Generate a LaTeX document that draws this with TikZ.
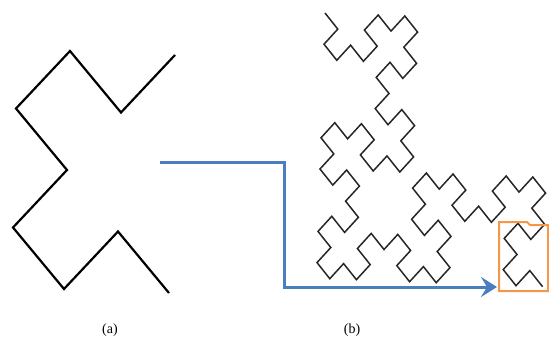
\documentclass[tikz,border=0pt]{standalone}
\usepackage{fontspec}
\setmainfont{Liberation Serif}
\usepackage{xcolor}
\usetikzlibrary{arrows.meta}
\definecolor{arrowblue}{RGB}{74,126,193}
\definecolor{boxorange}{RGB}{247,150,70}

\begin{document}
\begin{tikzpicture}[x=1pt,y=-1pt,
  curvea/.style={line width=2.2pt,black},
  curveb/.style={line width=1.5pt,black!85},
  flowarrow/.style={arrowblue,line width=3pt,-{Stealth[length=16pt,width=20pt,inset=6pt]}},
  markbox/.style={boxorange,line width=2pt},
  caption/.style={font=\fontsize{14}{16}\selectfont,inner sep=0pt}]
  \useasboundingbox (0,0) rectangle (549,342);
  % generator (a)
  \begin{scope}[x={(52.5pt,-2pt)},y={(-1.5pt,-59.5pt)},shift={(17.5pt,-49pt)}]
    \draw[curvea] plot coordinates {(3,0) (2,1) (1,0) (0,1) (1,2) (0,3) (1,4) (2,3) (3,4)};
  \end{scope}
  % curve (b), made of copies of (a)
  \begin{scope}[x={(13.3pt,-0.5pt)},y={(-0.5pt,-15.6pt)},shift={(325pt,-13pt)}]
    \draw[curveb] plot coordinates {
      (0,0) (1,1) (0,2) (1,3) (2,2) (3,3) (4,2) (3,1) (4,0)
      (5,1) (6,0) (7,1) (6,2) (7,3) (6,4) (5,3) (4,4)
      (5,5) (4,6) (5,7) (6,6) (7,7) (6,8) (7,9) (6,10) (5,9) (4,10) (3,9) (4,8)
      (3,7) (2,8) (1,7) (0,8) (1,9) (0,10) (1,11) (2,10) (3,11) (2,12)
      (3,13) (2,14) (1,13) (0,14) (1,15) (0,16) (1,17) (2,16) (3,17) (4,16)
      (3,15) (4,14) (5,15) (6,14) (7,15) (6,16) (7,17)
      (8,16) (9,17) (10,16) (9,15) (10,14) (9,13) (8,14) (7,13) (8,12) (7,11) (8,10)
      (9,11) (10,10) (11,11) (10,12) (11,13) (12,12) (13,13)
      (14,12) (13,11) (14,10) (15,11) (16,10) (17,11) (16,12) (17,13)
      (16,14) (15,13) (14,14) (15,15) (14,16) (15,17) (16,16) (17,17)};
  \end{scope}
  % highlighted copy
  \draw[markbox] (499,222) -- (527,222) -- (530,225) -- (548,225) -- (548,291) -- (499,291) -- cycle;
  \coordinate (astart) at (160,163);
  \coordinate (aturn) at (284,163);
  \coordinate (aend) at (497,287);
  \draw[flowarrow] (astart) -- (aturn) |- (aend);
  \node[caption] (capa) at (110,330) {(a)};
  \node[caption] (capb) at (352,330) {(b)};
\end{tikzpicture}
\end{document}
